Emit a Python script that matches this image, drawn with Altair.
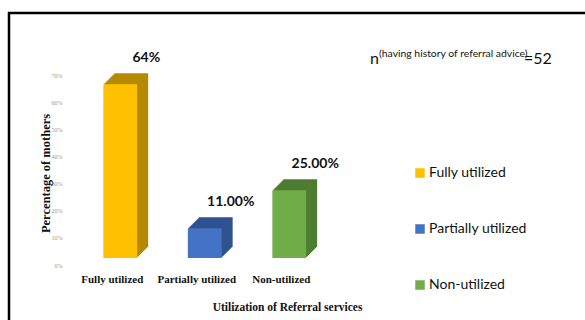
import altair as alt
import pandas as pd

categories = ["Fully utilized", "Partially utilized", "Non-utilized"]
values = [64, 11, 25]
value_labels = ["64%", "11.00%", "25.00%"]
front_colors = ["#FFC000", "#4472C4", "#70AD47"]
side_colors = ["#B58A00", "#2F528F", "#4E7D31"]
y_ticks = [0, 10, 20, 30, 40, 50, 60, 70]

df = pd.DataFrame({
    "cat": categories,
    "val": values,
    "lab": value_labels,
    "side": side_colors,
})

W, H = 253.5, 190
PL, PT = 70, 75
FRONT_DX, FRONT_DY = 8, -7
DEPTH = 11

x_enc = alt.X(
    "cat:N",
    sort=categories,
    scale=alt.Scale(paddingInner=0.6, paddingOuter=0.3),
    axis=alt.Axis(
        title="Utilization of Referral services",
        titleFont="Liberation Serif", titleFontSize=11.5, titleFontWeight="bold",
        titleColor="#111", titleX=217, titleY=42, titleBaseline="middle",
        titleAlign="center", titleAnchor="start",
        labelFont="Liberation Serif", labelFontSize=11, labelFontWeight="bold",
        labelColor="#111", labelAngle=0, labelPadding=8,
        domain=False, ticks=False, grid=False,
    ),
)
y_enc = alt.Y(
    "val:Q",
    scale=alt.Scale(domain=[0, 70], nice=False),
    axis=alt.Axis(
        title="Percentage of mothers",
        titleFont="Liberation Serif", titleFontSize=12.5, titleFontWeight="bold",
        titleColor="#111", titleX=-25, titleY=98, titleAngle=-90,
        titleBaseline="middle", titleAlign="center", titleAnchor="start",
        values=y_ticks, labelExpr="datum.value + '%'",
        labelFont="Liberation Serif", labelFontSize=6, labelColor="#999",
        labelPadding=8, domain=False, ticks=False, grid=False,
    ),
)

base = alt.Chart(df)

layers = []
# extrusion (3D depth) drawn back to front
for k in range(DEPTH, 0, -1):
    layers.append(
        base.mark_bar(xOffset=FRONT_DX + k, yOffset=FRONT_DY - k).encode(
            x=x_enc, y=y_enc, color=alt.Color("side:N", scale=None)
        )
    )

front = base.mark_bar(xOffset=FRONT_DX, yOffset=FRONT_DY).encode(
    x=x_enc,
    y=y_enc,
    color=alt.Color(
        "cat:N",
        sort=categories,
        scale=alt.Scale(domain=categories, range=front_colors),
        legend=alt.Legend(
            title=None, orient="none", legendX=343, legendY=91,
            symbolType="square", symbolSize=90, symbolStrokeWidth=0,
            labelFont="Lato", labelFontSize=14, labelColor="#111",
            rowPadding=42, labelOffset=2,
        ),
    ),
)
layers.append(front)

labels = base.mark_text(
    font="Lato", fontSize=14, fontWeight="bold", color="#111",
    dx=34, dy=FRONT_DY - 26, baseline="middle", align="center",
).encode(x=x_enc, y=y_enc, text="lab:N")
layers.append(labels)

# annotation n(having history of referral advice)=52
ann_n = alt.Chart(pd.DataFrame({"t": ["n"]})).mark_text(
    font="Lato", fontSize=16, color="#111", align="left", baseline="alphabetic"
).encode(x=alt.value(370 - PL), y=alt.value(64 - PT), text="t:N")
ann_sup = alt.Chart(pd.DataFrame({"t": ["(having history of referral advice)"]})).mark_text(
    font="Lato", fontSize=10.4, color="#111", align="left", baseline="middle"
).encode(x=alt.value(379 - PL), y=alt.value(54 - PT), text="t:N")
ann_eq = alt.Chart(pd.DataFrame({"t": ["=52"]})).mark_text(
    font="Lato", fontSize=16, color="#111", align="left", baseline="alphabetic"
).encode(x=alt.value(524 - PL), y=alt.value(64 - PT), text="t:N")
layers += [ann_n, ann_sup, ann_eq]

# frame lines
top_line = alt.Chart(pd.DataFrame({"a": [0]})).mark_rule(color="#000", strokeWidth=2.5).encode(
    x=alt.value(8 - PL), x2=alt.value(585 - PL), y=alt.value(13 - PT)
)
left_line = alt.Chart(pd.DataFrame({"a": [0]})).mark_rule(color="#000", strokeWidth=2.5).encode(
    x=alt.value(9 - PL), y=alt.value(12 - PT), y2=alt.value(320 - PT)
)
layers += [top_line, left_line]

chart = alt.layer(*layers).properties(
    width=W,
    height=H,
    autosize=alt.AutoSizeParams(type="none"),
    padding={"left": PL, "top": PT, "right": 585 - PL - W, "bottom": 320 - PT - H},
    background="white",
).configure_view(stroke=None)

chart.save("out.html", embed_options={"renderer": "svg", "actions": False})
